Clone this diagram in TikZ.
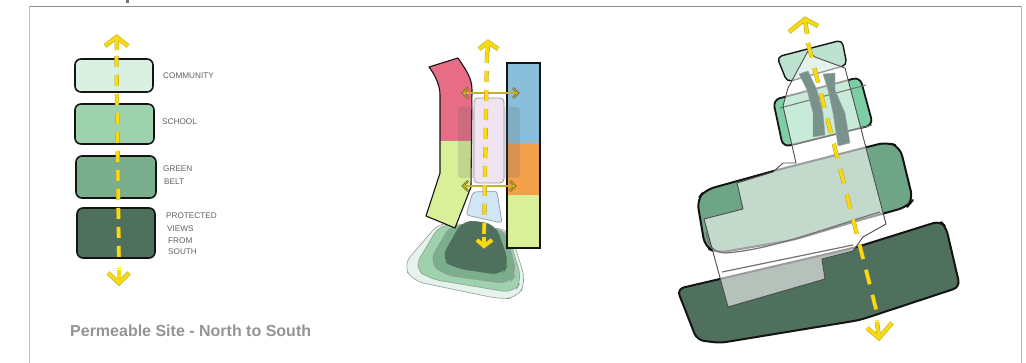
\documentclass[tikz,border=0pt]{standalone}
\usepackage{fontspec}
\setmainfont{Liberation Sans}
\definecolor{yel}{HTML}{F7DA10}
\definecolor{yelo}{HTML}{B5A32A}
\definecolor{frm}{HTML}{8F8F8F}
\definecolor{ink}{HTML}{141414}
\definecolor{gA}{HTML}{D9F0E2}
\definecolor{gB}{HTML}{9DD2AC}
\definecolor{gC}{HTML}{7BAE8D}
\definecolor{gD}{HTML}{50705E}
\tikzset{
  sketchbox/.style={draw=ink,line width=1.6pt,rounded corners=6pt},
  hand/.style={font=\fontsize{8.2}{9}\selectfont,text=black!62,anchor=west,inner sep=0pt},
  flowunder/.style={draw=yelo,line width=4.2pt,dash pattern=on \dashon pt off \dashoff pt},
  flowtop/.style={draw=yel,line width=3.3pt,dash pattern=on \dashon pt off \dashoff pt},
  chevunder/.style={draw=yelo,line width=4.4pt,line join=miter},
  chevtop/.style={draw=yel,line width=3.4pt,line join=miter},
  crossunder/.style={draw=black!60!yelo,line width=2.2pt},
  crosstop/.style={draw=yelo!75!yel,line width=1.4pt},
  sitefill/.style={fill=white,fill opacity=0.58},
  siteline/.style={draw=black!70,line width=0.9pt,line join=round},
  thinline/.style={draw=black!40,line width=0.6pt,rounded corners=11pt},
}
\def\dashon{11}\def\dashoff{8}
% start, end, chevron wing, tip, wing, stem foot
\newcommand{\flowline}[6]{%
  \coordinate (fs) at #1; \coordinate (fe) at #2;
  \draw[flowunder] (fs) -- (fe);
  \draw[flowtop] (fs) -- (fe);
  \draw[chevunder] #3 -- #4 -- #5;
  \draw[chevunder] #4 -- #6;
  \draw[chevtop] #3 -- #4 -- #5;
  \draw[chevtop] #4 -- #6;}
\begin{document}
\begin{tikzpicture}[x=1pt,y=-1pt]
\useasboundingbox (0,0) rectangle (1026,363);
\fill[white] (0,0) rectangle (1026,363);
% frame
\draw[frm,line width=1.2pt] (29.5,6.5) -- (1021,6.5);
\draw[black!25,line width=1pt] (29.5,6.5) -- (29.5,363);
\draw[black!30,line width=1pt] (1021,6.5) -- (1021,363);
\fill[black!55] (125.5,0) rectangle (128.5,3);
% panel 1
\node[sketchbox,fill=gA,minimum width=78pt,minimum height=33pt,inner sep=0pt] (b1) at (114,75.5) {};
\node[sketchbox,fill=gB,minimum width=79pt,minimum height=40pt,inner sep=0pt] (b2) at (114.5,124) {};
\node[sketchbox,fill=gC,minimum width=80pt,minimum height=42pt,inner sep=0pt] (b3) at (116,177) {};
\node[sketchbox,fill=gD,minimum width=78pt,minimum height=50pt,inner sep=0pt] (b4) at (116,233) {};
\flowline{(116.5,56)}{(119,264)}{(105,46)}{(116.7,37)}{(128,46)}{(117,50)}
\flowline{(119,268)}{(119,268.1)}{(108,273)}{(119,283)}{(129,273)}{(119,270)}
\node[hand] (l1) at (163,76) {COMMUNITY};
\node[hand] (l2) at (162,122) {SCHOOL};
\node[hand] (l3) at (163,169) {GREEN};
\node[hand] (l4) at (164,182) {BELT};
\node[hand] (l5) at (166,216) {PROTECTED};
\node[hand] (l6) at (167,229) {VIEWS};
\node[hand] (l7) at (168,241) {FROM};
\node[hand] (l8) at (168,252) {SOUTH};
\node[font=\bfseries\fontsize{16}{18}\selectfont,text=black!42,anchor=west,inner sep=0pt] (cap) at (70,331) {Permeable Site - North to South};
% panel 2 contours
\draw[thinline,fill=gA!70] (403,265) -- (440,222) -- (510,230) -- (526,282) -- (517,298) -- (500,299) -- (413,281) -- cycle;
\draw[thinline,fill=gB] (414,268) -- (440,224) -- (507,230) -- (522,280) -- (514,293) -- (430,279) -- cycle;
\draw[thinline,fill=gC] (429,262) -- (451,224) -- (505,230) -- (517,273) -- (509,284) -- (444,275) -- cycle;
\draw[thinline,fill=gD,draw=gD] (441,259) -- (463,220) -- (495,224) -- (509,263) -- (502,275) -- (455,268) -- cycle;
% panel 2 left band
\fill[fill={rgb,255:red,231;green,108;blue,134}] (429,67) -- (458,58) .. controls (466,70) and (472,78) .. (472,90) -- (471,141) -- (440,141) -- (440,95) .. controls (440,85) and (435,75) .. (429,67) -- cycle;
\fill[fill={rgb,255:red,218;green,240;blue,152}] (440,141) -- (471,141) -- (471,187) -- (455,228) -- (426,216) -- (440,173) -- cycle;
\draw[draw=ink,line width=1.1pt,line join=round] (429,67) -- (458,58) .. controls (466,70) and (472,78) .. (472,90) -- (471,187) -- (455,228) -- (426,216) -- (440,173) -- (440,95) .. controls (440,85) and (435,75) .. (429,67) -- cycle;
% panel 2 right band
\fill[fill={rgb,255:red,137;green,190;blue,218}] (507,63) rectangle (540,143);
\fill[fill={rgb,255:red,244;green,160;blue,75}] (507,143) rectangle (540,195);
\fill[fill={rgb,255:red,218;green,240;blue,152}] (507,195) rectangle (540,248);
\draw[draw=ink,line width=1.1pt] (507,63) rectangle (540,248);
% panel 2 shaded block and centre
\fill[black!60,fill opacity=0.2,rounded corners=3pt] (458,107) rectangle (520,178);
\draw[fill={rgb,255:red,241;green,228;blue,242},draw=black!40,line width=0.8pt,rounded corners=4pt] (474,98) rectangle (504,183);
\draw[fill={rgb,255:red,208;green,229;blue,246},draw=black!40,line width=0.7pt,rounded corners=3pt] (473,192) -- (497,191) -- (502,223) -- (466,215) -- cycle;
% panel 2 cross arrows
\foreach \yy/\ax/\bx in {93/463/518,186/463/515}{
  \draw[crossunder] (\ax,\yy) -- (\bx,\yy);
  \draw[crossunder] (\ax+5,\yy-5) -- (\ax,\yy) -- (\ax+5,\yy+5);
  \draw[crossunder] (\bx-5,\yy-5) -- (\bx,\yy) -- (\bx-5,\yy+5);
  \draw[crosstop] (\ax,\yy) -- (\bx,\yy);
  \draw[crosstop] (\ax+5,\yy-5) -- (\ax,\yy) -- (\ax+5,\yy+5);
  \draw[crosstop] (\bx-5,\yy-5) -- (\bx,\yy) -- (\bx-5,\yy+5);
}
\flowline{(487,52)}{(484,237)}{(479,49)}{(488,42)}{(498,49)}{(487.7,52)}
\flowline{(484,237)}{(484,237.1)}{(477,240)}{(484,246)}{(492,240)}{(484,238)}
% panel 3 bands
\draw[draw=ink,line width=2pt,fill=gD,rounded corners=7pt,line join=round] (677,289) -- (857,247) -- (940,221) -- (946,227) -- (960,287) -- (860,320) -- (720,343) -- (697,340) -- cycle;
\draw[draw=ink,line width=2pt,fill={rgb,255:red,110;green,165;blue,135},rounded corners=9pt,line join=round] (697,200) -- (705,190) -- (777,170) -- (887,142) -- (900,147) -- (913,200) -- (907,207) -- (860,220) -- (793,240) -- (717,253) -- (705,247) -- cycle;
\draw[draw=ink,line width=1.8pt,fill={rgb,255:red,125;green,205;blue,165},rounded corners=7pt] (773,100) -- (860,77) -- (873,125) -- (783,147) -- cycle;
\draw[draw=ink,line width=1.4pt,fill={rgb,255:red,190;green,226;blue,208},rounded corners=5pt] (777,57) -- (842,40) -- (847,65) -- (787,82) -- cycle;
% panel 3 site
\fill[sitefill] (808,51) -- (788,88) -- (783,106) -- (796,163) -- (783,163) -- (773,172) -- (737,183) -- (743,209) -- (704,219) -- (728,307) -- (825,279) -- (822,259) -- (853,251) -- (863,237) -- (886,224) -- (845,68) -- (815,57) -- cycle;
\draw[draw=black!55,line width=1.2pt] (706,232) .. controls (708,245) and (712,252) .. (725,253) .. controls (770,250) and (820,230) .. (880,212);
\draw[draw=black!55,line width=1.2pt] (722,272) -- (853,245);
\draw[draw=black!55,line width=1pt] (780,108) -- (866,85);
\draw[draw=black!55,line width=1pt] (793,145) -- (872,125);
\draw[siteline] (808,51) -- (788,88) -- (783,106) -- (796,163) -- (783,163) -- (773,172) -- (737,183) -- (743,209) -- (704,219) -- (728,307) -- (825,279) -- (822,259) -- (853,251) -- (863,237) -- (886,224) -- (845,68) -- (815,57) -- cycle;
% panel 3 buildings
\fill[fill={rgb,255:red,122;green,146;blue,140},draw=black!35,line width=0.4pt] (799,74) -- (808,71) -- (817,90) -- (823,113) -- (825,135) -- (813,137) -- (813,113) -- (807,90) -- cycle;
\fill[fill={rgb,255:red,122;green,146;blue,140},draw=black!35,line width=0.4pt] (823,74) -- (835,73) -- (835,90) -- (845,113) -- (850,143) -- (838,146) -- (833,113) -- (828,90) -- cycle;
\def\dashon{15}\def\dashoff{11}
\flowline{(808,43)}{(877,313)}{(789,32)}{(805,19)}{(818,26)}{(807,34)}
\flowline{(877,320)}{(877,320.1)}{(867,328)}{(879,338)}{(892,323)}{(877,322)}
\end{tikzpicture}
\end{document}
